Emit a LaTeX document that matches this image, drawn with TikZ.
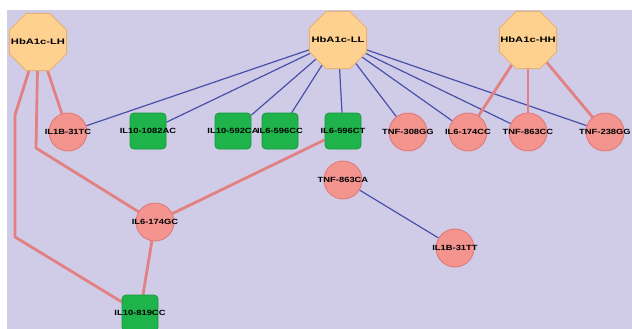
\documentclass[tikz,border=0pt]{standalone}
\usepackage{fontspec}
\setmainfont{Liberation Sans}
\usetikzlibrary{shapes.geometric}
\definecolor{bgcol}{RGB}{208,204,232}
\definecolor{octfill}{RGB}{255,209,145}
\definecolor{octdraw}{RGB}{228,178,118}
\definecolor{circfill}{RGB}{244,148,143}
\definecolor{circdraw}{RGB}{222,118,118}
\definecolor{sqfill}{RGB}{30,180,75}
\definecolor{sqdraw}{RGB}{22,150,60}
\definecolor{blueedge}{RGB}{72,80,168}
\definecolor{pinkedge}{RGB}{226,128,130}
\pgfdeclarelayer{bg}
\pgfdeclarelayer{edges}
\pgfsetlayers{bg,edges,main}
\newcommand{\oclab}[1]{\makebox[0pt]{\scalebox{1.4}[1]{\fontsize{8}{8}\selectfont\bfseries #1}}}
\newcommand{\nlab}[1]{\makebox[0pt]{\scalebox{1.25}[1]{\fontsize{7.5}{7.5}\selectfont\bfseries #1}}}
\tikzset{
  oct/.style={regular polygon, regular polygon sides=8, minimum size=62pt, inner sep=0pt, fill=octfill, draw=octdraw, line width=0.8pt},
  circ/.style={circle, minimum size=38pt, inner sep=0pt, fill=circfill, draw=circdraw, line width=0.8pt},
  sq/.style={rectangle, rounded corners=4pt, minimum size=36pt, inner sep=0pt, fill=sqfill, draw=sqdraw, line width=0.8pt},
  bluel/.style={draw=blueedge, line width=1.2pt},
  pinkl/.style={draw=pinkedge, line width=2.8pt, line join=round}
}
\begin{document}
\begin{tikzpicture}[x=1pt,y=-1pt]
\useasboundingbox (0,0) rectangle (632,329);
\begin{pgfonlayer}{bg}
\fill[bgcol] (7,10) rectangle (632,329);
\end{pgfonlayer}
% octagons
\node[oct] (LH) at (38,42) {\oclab{HbA1c-LH}};
\node[oct] (LL) at (338,40) {\oclab{HbA1c-LL}};
\node[oct] (HH) at (528,40) {\oclab{HbA1c-HH}};
% row
\node[circ] (c31TC) at (68,132) {\nlab{IL1B-31TC}};
\node[sq] (s1082) at (148,131) {\nlab{IL10-1082AC}};
\node[sq] (s592) at (233,131) {\nlab{IL10-592CA}};
\node[sq] (s596CC) at (280,131) {\nlab{IL6-596CC}};
\node[sq] (s596CT) at (343,131) {\nlab{IL6-596CT}};
\node[circ] (c308) at (408,132) {\nlab{TNF-308GG}};
\node[circ] (c174CC) at (468,132) {\nlab{IL6-174CC}};
\node[circ] (c863CC) at (528,132) {\nlab{TNF-863CC}};
\node[circ] (c238) at (605,132) {\nlab{TNF-238GG}};
\node[circ] (c863CA) at (343,180) {\nlab{TNF-863CA}};
\node[circ] (c31TT) at (455,248) {\nlab{IL1B-31TT}};
\node[circ] (c174GC) at (155,222) {\nlab{IL6-174GC}};
\node[sq] (s819) at (140,313) {\nlab{IL10-819CC}};
\coordinate (bA) at (15,115);
\coordinate (bB) at (15,237);
\coordinate (bC) at (36,148);
\begin{pgfonlayer}{edges}
\foreach \t in {c31TC,s1082,s592,s596CC,s596CT,c308,c174CC,c863CC,c238}
  \draw[bluel] (LL) -- (\t);
\draw[bluel] (c863CA) -- (c31TT);
\draw[pinkl] (LH) -- (c31TC);
\draw[pinkl] (LH) -- (bC) -- (c174GC);
\draw[pinkl] (LH) -- (bA) -- (bB) -- (s819);
\draw[pinkl] (c174GC) -- (s596CT);
\draw[pinkl] (c174GC) -- (s819);
\draw[pinkl] (HH) -- (c174CC);
\draw[pinkl] (HH) -- (c863CC);
\draw[pinkl] (HH) -- (c238);
\end{pgfonlayer}
\end{tikzpicture}
\end{document}
